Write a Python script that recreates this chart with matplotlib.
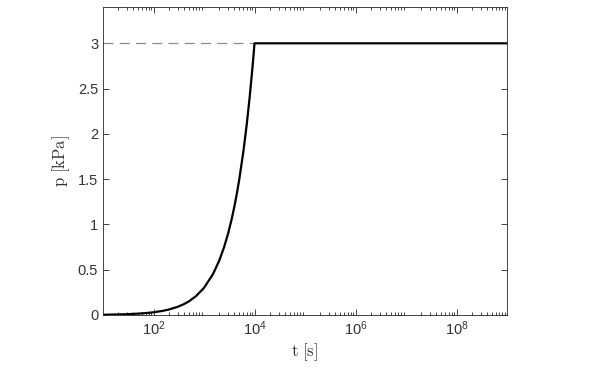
import numpy as np
import matplotlib
matplotlib.use('Agg')
import matplotlib.pyplot as plt
from matplotlib.ticker import LogLocator, NullFormatter, FixedLocator

# datos (rampa hasta 1e4 s y luego constante)
t_s = [10, 15, 20, 30, 50, 70, 100, 150, 200, 300, 400, 500, 700, 1000,
       1500, 2000, 2500, 3000, 3500, 4000, 4500, 5000, 6000, 7000, 8000,
       9000, 9500, 10000, 1e9]
p_kpa = [0.003, 0.0045, 0.006, 0.009, 0.015, 0.021, 0.03, 0.045, 0.06, 0.09,
         0.12, 0.15, 0.21, 0.30, 0.45, 0.60, 0.75, 0.90, 1.05, 1.20, 1.35,
         1.50, 1.80, 2.10, 2.40, 2.70, 2.85, 3.00, 3.00]
p_max = 3.0
t_fin_rampa = 1e4

plt.rcParams['font.family'] = ['Liberation Sans', 'DejaVu Sans']
plt.rcParams['mathtext.fontset'] = 'cm'

fig = plt.figure(figsize=(6, 3.73), dpi=100)
ax = fig.add_axes([0.1717, 0.1555, 0.6733, 0.8255])

ax.plot([10, t_fin_rampa], [p_max, p_max], '--', color='#8c8c8c', lw=0.9, dashes=(8, 5))
ax.plot(t_s, p_kpa, color='black', lw=1.6)

ax.set_xscale('log')
ax.set_xlim(10, 1e9)
ax.set_ylim(0, 3.4)

ax.xaxis.set_major_locator(FixedLocator([1e2, 1e4, 1e6, 1e8]))
ax.xaxis.set_minor_locator(LogLocator(base=10, subs=np.arange(2, 10), numticks=20))
ax.xaxis.set_minor_formatter(NullFormatter())
ax.set_yticks([0, 0.5, 1, 1.5, 2, 2.5, 3])
ax.set_yticklabels(['0', '0.5', '1', '1.5', '2', '2.5', '3'])

ax.tick_params(which='both', direction='in', top=True, right=True,
               colors='#262626', labelcolor='#333333', labelsize=10.5, width=0.6)
ax.tick_params(which='major', length=4)
ax.tick_params(which='minor', length=2)
for s in ax.spines.values():
    s.set_color('#262626')
    s.set_linewidth(0.6)

ax.set_xlabel(r'$\mathrm{t\ [s]}$', fontsize=12, color='#333333', labelpad=2)
ax.set_ylabel(r'$\mathrm{p\ [kPa]}$', fontsize=12, color='#333333', labelpad=4)

fig.savefig('out.png', dpi=100)
